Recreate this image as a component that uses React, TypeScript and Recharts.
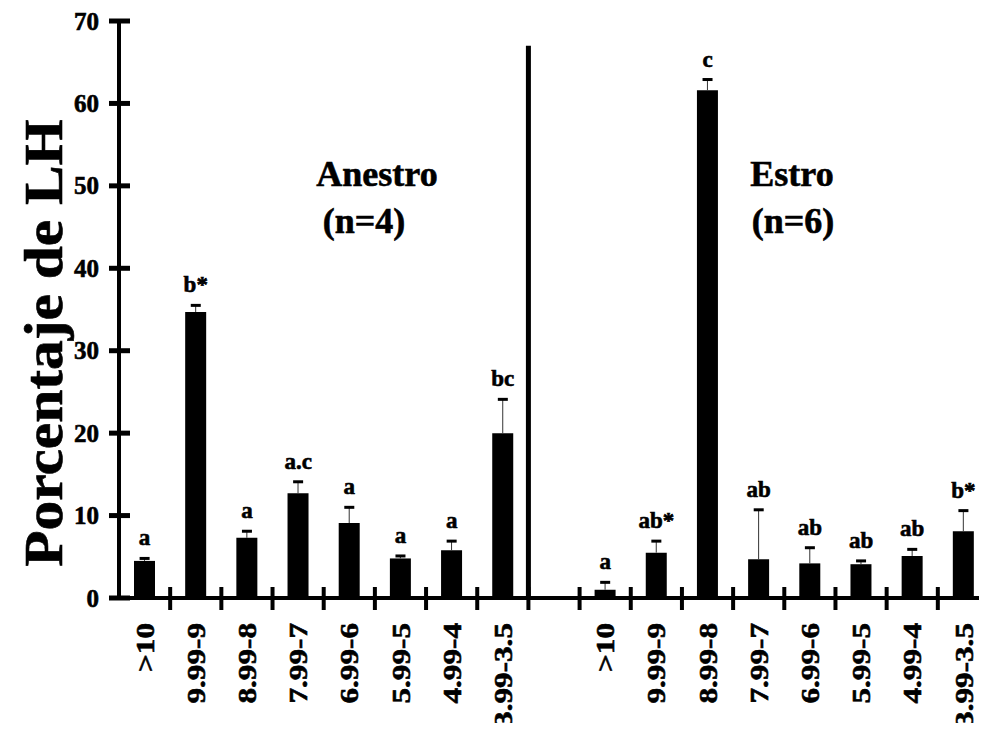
import { ComposedChart, Bar, Line, XAxis, YAxis, ErrorBar, ReferenceLine } from "recharts";

const RANGES = [">10", "9.99-9", "8.99-8", "7.99-7", "6.99-6", "5.99-5", "4.99-4", "3.99-3.5"];

const ANESTRO_VALUES = [4.5, 34.7, 7.3, 12.7, 9.1, 4.8, 5.8, 20.0];
const ANESTRO_ERRORS = [0.3, 0.8, 0.8, 1.4, 1.9, 0.3, 1.1, 4.1];
const ANESTRO_LETTERS = ["a", "b*", "a", "a.c", "a", "a", "a", "bc"];

const ESTRO_VALUES = [1.0, 5.5, 61.6, 4.7, 4.2, 4.1, 5.1, 8.1];
const ESTRO_ERRORS = [0.9, 1.4, 1.3, 6.0, 1.9, 0.4, 0.8, 2.5];
const ESTRO_LETTERS = ["a", "ab*", "c", "ab", "ab", "ab", "ab", "b*"];

const Y_TICKS = [0, 10, 20, 30, 40, 50, 60, 70];
const DIVIDER_TOP = 67;

const FONT = "Liberation Serif, Times New Roman, serif";
const textStyle = { fontFamily: FONT, fontWeight: 700 };
const heavy = { stroke: "#000", strokeWidth: 0.6 };

type Row = {
  id: string;
  range: string;
  value: number | null;
  err: number[] | null;
  top: number | null;
  letter: string;
};

const group = (prefix: string, values: number[], errors: number[], letters: string[]): Row[] =>
  values.map((v, i) => ({
    id: `${prefix}${i}`,
    range: RANGES[i],
    value: v,
    err: [0, errors[i]],
    top: v + errors[i],
    letter: letters[i],
  }));

const rows: Row[] = [
  ...group("A", ANESTRO_VALUES, ANESTRO_ERRORS, ANESTRO_LETTERS),
  { id: "gap", range: "", value: null, err: null, top: null, letter: "" },
  ...group("E", ESTRO_VALUES, ESTRO_ERRORS, ESTRO_LETTERS),
];

const rangeById: Record<string, string> = {};
rows.forEach((r) => (rangeById[r.id] = r.range));

function XTick(props: any) {
  const { x, y, payload } = props;
  const half = payload.offset ?? 25.5;
  const label = rangeById[payload.value];
  return (
    <g>
      <line x1={x + half} x2={x + half} y1={y - 11} y2={y + 12} stroke="#000" strokeWidth={4} />
      {label ? (
        <text
          transform={`translate(${x},${y + 25}) rotate(-90) scale(1.2,1)`}
          textAnchor="end"
          dy="0.35em"
          style={{ ...textStyle, fontSize: 26 }}
          fill="#000"
          {...heavy}
        >
          {label}
        </text>
      ) : null}
    </g>
  );
}

function YTick(props: any) {
  const { x, y, payload } = props;
  return (
    <g>
      <line x1={x - 10} x2={x + 11} y1={y} y2={y} stroke="#000" strokeWidth={5} />
      <text
        x={x - 20}
        y={y}
        dy="0.34em"
        textAnchor="end"
        style={{ ...textStyle, fontSize: 25 }}
        fill="#000"
        {...heavy}
      >
        {payload.value}
      </text>
    </g>
  );
}

function CapDot(props: any) {
  const { cx, cy, payload } = props;
  if (payload.top == null || cx == null || cy == null) return <g />;
  return (
    <g>
      <rect x={cx - 5} y={cy - 1.5} width={10} height={3} fill="#000" />
      <text
        x={cx}
        y={cy - 13}
        textAnchor="middle"
        style={{ ...textStyle, fontSize: 23 }}
        fill="#000"
        {...heavy}
      >
        {payload.letter}
      </text>
    </g>
  );
}

export default function App() {
  return (
    <div
      style={{
        margin: -8,
        position: "relative",
        width: 987,
        height: 731,
        overflow: "hidden",
        background: "#fff",
      }}
    >
      <ComposedChart
        width={990}
        height={731}
        data={rows}
        margin={{ top: 21, right: 1, left: 0, bottom: 0 }}
      >
        <XAxis
          dataKey="id"
          height={133}
          interval={0}
          tickSize={0}
          tickMargin={0}
          tickLine={false}
          axisLine={{ stroke: "#000", strokeWidth: 4 }}
          tick={<XTick />}
        />
        <YAxis
          width={119}
          domain={[0, 70]}
          ticks={Y_TICKS}
          tickSize={0}
          tickMargin={0}
          tickLine={false}
          axisLine={{ stroke: "#000", strokeWidth: 4 }}
          tick={<YTick />}
        />
        <Bar dataKey="value" fill="#000" barSize={21} isAnimationActive={false}>
          <ErrorBar dataKey="err" width={0} stroke="#333" strokeWidth={1} direction="y" />
        </Bar>
        <Line
          dataKey="top"
          stroke="none"
          dot={<CapDot />}
          activeDot={false}
          isAnimationActive={false}
        />
        <ReferenceLine
          segment={[
            { x: "gap", y: 0 },
            { x: "gap", y: DIVIDER_TOP },
          ]}
          position="start"
          stroke="#000"
          strokeWidth={5}
        />
      </ComposedChart>
      <svg
        width={987}
        height={731}
        style={{ position: "absolute", left: 0, top: 0, pointerEvents: "none", ...textStyle }}
      >
        <text
          transform="translate(62,343) rotate(-90) scale(1.1,1)"
          textAnchor="middle"
          style={{ ...textStyle, fontSize: 54 }}
          fill="#000"
          {...heavy}
        >
          Porcentaje de LH
        </text>
        <text x={377} y={186} textAnchor="middle" style={{ ...textStyle, fontSize: 36 }} fill="#000" {...heavy}>
          Anestro
        </text>
        <text x={364} y={233} textAnchor="middle" style={{ ...textStyle, fontSize: 36 }} fill="#000" {...heavy}>
          (n=4)
        </text>
        <text x={792} y={186} textAnchor="middle" style={{ ...textStyle, fontSize: 36 }} fill="#000" {...heavy}>
          Estro
        </text>
        <text x={793} y={233} textAnchor="middle" style={{ ...textStyle, fontSize: 36 }} fill="#000" {...heavy}>
          (n=6)
        </text>
      </svg>
    </div>
  );
}
